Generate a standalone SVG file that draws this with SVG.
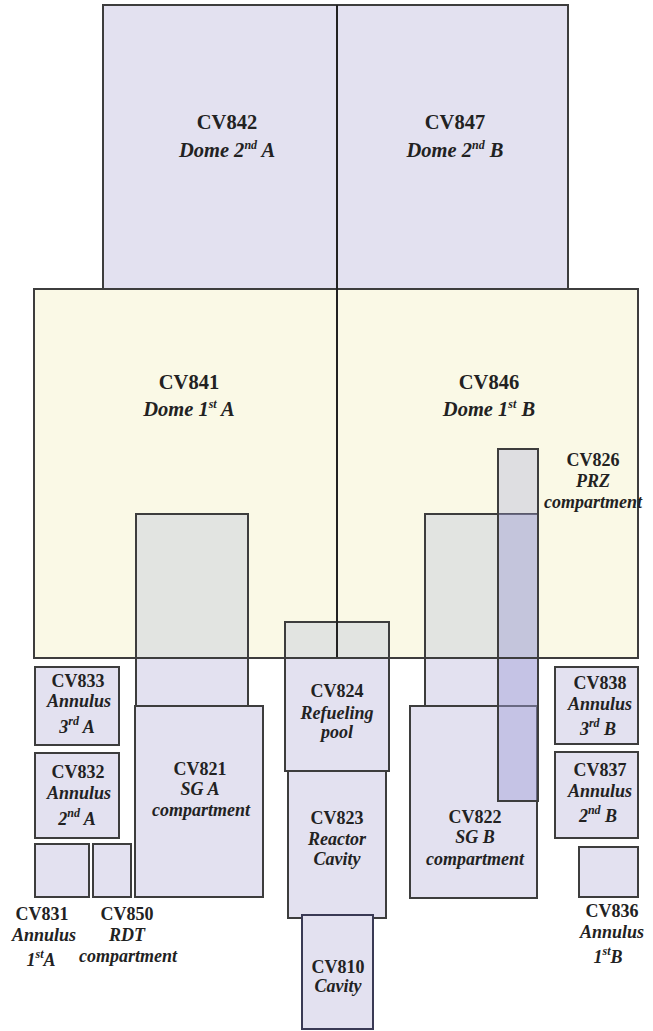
<svg xmlns="http://www.w3.org/2000/svg" width="653" height="1031" viewBox="0 0 653 1031">
<style>
.box{stroke:#3d3d3d;stroke-width:2}
.lav{fill:#e3e1f0}
.yel{fill:#faf9e6}
.gry{fill:#e2e4e1}
.nof{fill:none;stroke:#3d3d3d;stroke-width:2}
.prz{fill:#a0a0d8}
text{font-family:"Liberation Serif","Times New Roman",serif;font-weight:bold;fill:#222;text-anchor:middle}
.big{font-size:20.5px}
.sm{font-size:18px}
.it{font-style:italic}
.sup{font-size:12px}
.part{stroke:#222;stroke-width:2}
</style>
<rect width="653" height="1031" fill="#ffffff"/>

<g id="cv842">
<rect class="box lav" x="103" y="5" width="234" height="284"/>
<text class="big" x="227" y="129">CV842</text>
<text class="big it" x="227" y="157">Dome 2<tspan class="sup" dy="-8">nd</tspan><tspan dy="8"> A</tspan></text>
</g>
<g id="cv847">
<rect class="box lav" x="337" y="5" width="231" height="284"/>
<text class="big" x="455" y="129">CV847</text>
<text class="big it" x="455" y="157">Dome 2<tspan class="sup" dy="-8">nd</tspan><tspan dy="8"> B</tspan></text>
</g>

<g id="cv841">
<rect class="box yel" x="34" y="289" width="303" height="369"/>
<text class="big" x="189" y="389">CV841</text>
<text class="big it" x="189" y="416">Dome 1<tspan class="sup" dy="-8">st</tspan><tspan dy="8"> A</tspan></text>
</g>
<g id="cv846">
<rect class="box yel" x="337" y="289" width="301" height="369"/>
<text class="big" x="489" y="389">CV846</text>
<text class="big it" x="489" y="416">Dome 1<tspan class="sup" dy="-8">st</tspan><tspan dy="8"> B</tspan></text>
</g>

<g id="cv821">
<rect class="gry" x="136" y="514" width="112" height="144"/>
<rect class="lav" x="136" y="658" width="112" height="48"/>
<rect class="nof" x="136" y="514" width="112" height="192"/>
<rect class="box lav" x="135" y="706" width="128" height="191"/>
<text class="sm" x="200" y="775">CV821</text>
<text class="sm it" x="200" y="795">SG A</text>
<text class="sm it" x="201" y="816">compartment</text>
</g>

<g id="cv822">
<rect class="gry" x="425" y="514" width="113" height="144"/>
<rect class="lav" x="425" y="658" width="113" height="48"/>
<rect class="nof" x="425" y="514" width="113" height="192"/>
<rect class="box lav" x="410" y="706" width="127" height="192"/>
<text class="sm" x="475" y="823">CV822</text>
<text class="sm it" x="475" y="843">SG B</text>
<text class="sm it" x="475" y="865">compartment</text>
</g>

<g id="cv824">
<rect class="gry" x="285" y="622" width="104" height="36"/>
<rect class="lav" x="285" y="658" width="104" height="113"/>
<rect class="nof" x="285" y="622" width="104" height="149"/>
<text class="sm" x="337" y="697">CV824</text>
<text class="sm it" x="337" y="719">Refueling</text>
<text class="sm it" x="337" y="738">pool</text>
</g>

<g id="cv823">
<rect class="box lav" x="288" y="771" width="98" height="147"/>
<text class="sm" x="337" y="824">CV823</text>
<text class="sm it" x="337" y="845">Reactor</text>
<text class="sm it" x="337" y="865">Cavity</text>
</g>

<g id="cv810">
<rect class="box lav" x="302" y="915" width="71" height="114" style="stroke:#3a3a55"/>
<text class="sm" x="338" y="973">CV810</text>
<text class="sm it" x="338" y="992">Cavity</text>
</g>

<g id="cv826">
<rect class="prz" x="498" y="449" width="40" height="65" fill-opacity="0.3"/>
<rect class="prz" x="498" y="514" width="40" height="287" fill-opacity="0.45"/>
<rect class="nof" x="498" y="449" width="40" height="352"/>
<text class="sm" x="593" y="466">CV826</text>
<text class="sm it" x="593" y="487">PRZ</text>
<text class="sm it" x="593" y="508">compartment</text>
</g>

<g id="cv833">
<rect class="box lav" x="35" y="667" width="84" height="78"/>
<text class="sm" x="78" y="687">CV833</text>
<text class="sm it" x="79" y="707">Annulus</text>
<text class="sm it" x="77" y="733">3<tspan class="sup" dy="-8">rd</tspan><tspan dy="8"> A</tspan></text>
</g>
<g id="cv832">
<rect class="box lav" x="35" y="753" width="84" height="85"/>
<text class="sm" x="78" y="778">CV832</text>
<text class="sm it" x="79" y="799">Annulus</text>
<text class="sm it" x="77" y="825">2<tspan class="sup" dy="-8">nd</tspan><tspan dy="8"> A</tspan></text>
</g>
<g id="cv831">
<rect class="box lav" x="35" y="844" width="54" height="53"/>
<text class="sm" x="42" y="920">CV831</text>
<text class="sm it" x="44" y="941">Annulus</text>
<text class="sm it" x="41" y="966">1<tspan class="sup" dy="-8">st</tspan><tspan dy="8">A</tspan></text>
</g>
<g id="cv850">
<rect class="box lav" x="93" y="844" width="38" height="53"/>
<text class="sm" x="127" y="920">CV850</text>
<text class="sm it" x="127" y="941">RDT</text>
<text class="sm it" x="128" y="962">compartment</text>
</g>

<g id="cv838">
<rect class="box lav" x="555" y="667" width="83" height="77"/>
<text class="sm" x="600" y="689">CV838</text>
<text class="sm it" x="600" y="710">Annulus</text>
<text class="sm it" x="598" y="735">3<tspan class="sup" dy="-8">rd</tspan><tspan dy="8"> B</tspan></text>
</g>
<g id="cv837">
<rect class="box lav" x="555" y="752" width="83" height="86"/>
<text class="sm" x="600" y="776">CV837</text>
<text class="sm it" x="600" y="797">Annulus</text>
<text class="sm it" x="598" y="822">2<tspan class="sup" dy="-8">nd</tspan><tspan dy="8"> B</tspan></text>
</g>
<g id="cv836">
<rect class="box lav" x="579" y="847" width="59" height="50"/>
<text class="sm" x="612" y="917">CV836</text>
<text class="sm it" x="612" y="938">Annulus</text>
<text class="sm it" x="608" y="963">1<tspan class="sup" dy="-8">st</tspan><tspan dy="8">B</tspan></text>
</g>

<g id="connectors">
<line class="part" x1="337" y1="5" x2="337" y2="658"/>
<line class="box" x1="34" y1="658" x2="638" y2="658"/>
</g>
</svg>
